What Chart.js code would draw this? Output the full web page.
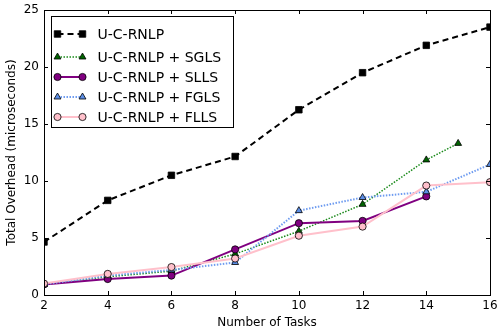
<!DOCTYPE html>
<html>
<head>
<meta charset="utf-8">
<script src="https://cdn.jsdelivr.net/npm/chart.js@4"></script>
<style>
  html, body { margin: 0; padding: 0; background: #fff; }
  #wrap { width: 497px; height: 336px; }
</style>
</head>
<body>
<div id="wrap"><canvas id="overhead"></canvas></div>
<script>
// data
var tasks     = [2, 4, 6, 8, 10, 12, 14, 16];
var tasksSGLS = [2, 4, 6, 8, 10, 12, 14, 15];
var tasksSLLS = [2, 4, 6, 8, 10, 12, 14];
var ucrnlp = [4.65, 8.3, 10.5, 12.15, 16.25, 19.5, 21.9, 23.5];
var sgls   = [0.93, 1.6, 2.1, 3.6, 5.6, 7.95, 11.85, 13.3];
var slls   = [0.93, 1.4, 1.7, 4.0, 6.3, 6.5, 8.65];
var fgls   = [0.93, 1.7, 2.2, 2.85, 7.4, 8.55, 9.05, 11.45];
var flls   = [1.0, 1.85, 2.45, 3.2, 5.2, 6.0, 9.6, 9.9];
var xTicks = [2, 4, 6, 8, 10, 12, 14, 16];
var yTicks = [0, 5, 10, 15, 20, 25];

function pts(xs, ys) {
    return ys.map(function (y, i) { return {x: xs[i], y: y}; });
}

var FONT = 'DejaVu Sans';

var series = [
    {label: 'U-C-RNLP', data: pts(tasks, ucrnlp), borderColor: '#000', backgroundColor: '#000',
     borderWidth: 2, borderDash: [6, 4], pointStyle: 'rect', pointRadius: 4.6, order: 4},
    {label: 'U-C-RNLP + SGLS', data: pts(tasksSGLS, sgls), borderColor: '#1a8a1a', backgroundColor: '#006400',
     borderWidth: 1.5, borderDash: [1.5, 1.5], pointStyle: 'triangle', pointRadius: 4, order: 3},
    {label: 'U-C-RNLP + SLLS', data: pts(tasksSLLS, slls), borderColor: '#800080', backgroundColor: '#800080',
     borderWidth: 2, borderDash: [], pointStyle: 'circle', pointRadius: 3.6, order: 2},
    {label: 'U-C-RNLP + FGLS', data: pts(tasks, fgls), borderColor: '#6f9cf0', backgroundColor: '#5b8ee6',
     borderWidth: 2, borderDash: [1.5, 1.5], pointStyle: 'triangle', pointRadius: 4, order: 1},
    {label: 'U-C-RNLP + FLLS', data: pts(tasks, flls), borderColor: '#ffc0cb', backgroundColor: '#ffc0cb',
     borderWidth: 2, borderDash: [], pointStyle: 'circle', pointRadius: 3.6, order: 0}
];

var datasets = series.map(function (s) {
    return {
        label: s.label, data: s.data, order: s.order,
        borderColor: s.borderColor, borderWidth: s.borderWidth, borderDash: s.borderDash,
        pointStyle: s.pointStyle, pointRadius: s.pointRadius,
        pointBackgroundColor: s.backgroundColor, pointBorderColor: '#000', pointBorderWidth: 0.8,
        fill: false, tension: 0
    };
});

// frame, inward ticks and boxed legend like matplotlib
var framePlugin = {
    id: 'frame',
    afterDraw: function (chart) {
        var ctx = chart.ctx, a = chart.chartArea;
        var xs = chart.scales.x, ys = chart.scales.y;
        ctx.save();
        ctx.strokeStyle = '#000';
        ctx.lineWidth = 1;
        ctx.beginPath();
        xTicks.forEach(function (v) {
            var px = Math.round(xs.getPixelForValue(v)) + 0.5;
            ctx.moveTo(px, a.bottom); ctx.lineTo(px, a.bottom - 4);
            ctx.moveTo(px, a.top); ctx.lineTo(px, a.top + 4);
        });
        yTicks.forEach(function (v) {
            var py = Math.round(ys.getPixelForValue(v)) + 0.5;
            ctx.moveTo(a.left, py); ctx.lineTo(a.left + 4, py);
            ctx.moveTo(a.right, py); ctx.lineTo(a.right - 4, py);
        });
        ctx.stroke();
        ctx.strokeRect(Math.round(a.left) + 0.5, Math.round(a.top) + 0.5,
            Math.round(a.right - a.left), Math.round(a.bottom - a.top));

        // legend
        var lx = Math.round(a.left) + 7.5, ly = Math.round(a.top) + 6.5, lw = 182, lh = 111;
        ctx.fillStyle = '#fff';
        ctx.fillRect(lx, ly, lw, lh);
        ctx.strokeRect(lx, ly, lw, lh);
        ctx.font = '14px ' + FONT;
        ctx.textBaseline = 'middle';
        var rowY = [17, 40, 60, 80, 100];
        series.forEach(function (s, i) {
            var y = ly + rowY[i] + 0.5;
            var x0 = lx + 6, x1 = lx + 31;
            ctx.save();
            ctx.strokeStyle = s.borderColor;
            ctx.lineWidth = s.borderWidth;
            ctx.setLineDash(s.borderDash);
            ctx.beginPath(); ctx.moveTo(x0, y); ctx.lineTo(x1, y); ctx.stroke();
            ctx.restore();
            [x0, x1].forEach(function (px) {
                ctx.save();
                ctx.fillStyle = s.backgroundColor;
                ctx.strokeStyle = '#000';
                ctx.lineWidth = 0.8;
                Chart.helpers.drawPoint(ctx, {pointStyle: s.pointStyle, radius: s.pointRadius, rotation: 0, borderWidth: 0.8}, px, y);
                ctx.restore();
            });
            ctx.fillStyle = '#000';
            ctx.fillText(s.label, lx + 46, y + 1);
        });
        ctx.restore();
    }
};

var ctx = document.getElementById('overhead');
var chart = new Chart(ctx, {
    type: 'line',
    data: { datasets: datasets },
    plugins: [framePlugin],
    options: {
        responsive: true,
        maintainAspectRatio: false,
        animation: false,
        layout: { padding: { top: 10, right: 7, left: 0, bottom: 0 } },
        plugins: { legend: { display: false }, tooltip: { enabled: false } },
        scales: {
            x: {
                type: 'linear', min: 2, max: 16,
                afterFit: function (s) { s.height = 41; s.paddingLeft = 0; s.paddingRight = 0; },
                afterBuildTicks: function (s) { s.ticks = xTicks.map(function (v) { return {value: v}; }); },
                grid: { display: false, drawTicks: false },
                border: { display: false },
                ticks: { color: '#000', font: { family: FONT, size: 12 }, padding: 4, maxRotation: 0 },
                title: { display: true, text: 'Number of Tasks', color: '#000',
                         font: { family: FONT, size: 12 }, padding: { top: 0, bottom: 6 } }
            },
            y: {
                min: 0, max: 25,
                afterFit: function (s) { s.width = 44; s.paddingTop = 0; s.paddingBottom = 0; },
                afterBuildTicks: function (s) { s.ticks = yTicks.map(function (v) { return {value: v}; }); },
                grid: { display: false, drawTicks: false },
                border: { display: false },
                ticks: { color: '#000', font: { family: FONT, size: 12 }, padding: 5 },
                title: { display: true, text: 'Total Overhead (microseconds)', color: '#000',
                         font: { family: FONT, size: 12 }, padding: { top: 5, bottom: 0 } }
            }
        }
    }
});
</script>
</body>
</html>
